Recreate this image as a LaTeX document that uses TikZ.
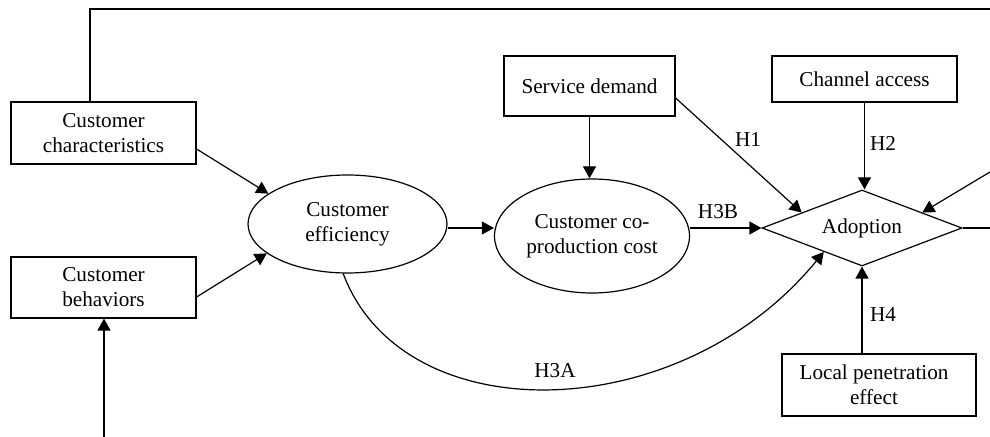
\documentclass[tikz,border=0pt]{standalone}
\usepackage{fontspec}
\setmainfont{Liberation Serif}
\usetikzlibrary{shapes.geometric,arrows.meta,calc}
\begin{document}
\begin{tikzpicture}[x=0.5pt,y=-0.5pt,
  every node/.style={font=\fontsize{10.6}{12.5}\selectfont},
  line/.style={line width=0.6pt},
  arr/.style={line, -{Triangle[length=6pt,width=6.5pt]}},
  box/.style={draw, line width=0.6pt, rectangle, inner sep=0pt, align=center},
  oval/.style={draw, line width=0.6pt, ellipse, inner sep=0pt, align=center},
  rhomb/.style={draw, line width=0.6pt, diamond, shape aspect=2.63, inner sep=0pt},
  lbl/.style={inner sep=0pt}]
\useasboundingbox (0,0) rectangle (990,437);

% constructs
\node[box, minimum width=92.5pt, minimum height=31pt] (char) at (103.5,133) {Customer\\characteristics};
\node[box, minimum width=92.5pt, minimum height=30.5pt] (behav) at (103.5,287.5) {Customer\\behaviors};
\node[oval, minimum width=99.5pt, minimum height=49pt] (eff) at (347.5,224) {Customer\\efficiency};
\node[oval, minimum width=97.5pt, minimum height=57pt] (cost) at (592,236) {Customer co-\\production cost};
\node[box, minimum width=85.5pt, minimum height=30pt] (serv) at (589.5,86) {Service demand};
\node[box, minimum width=92.5pt, minimum height=23pt] (chan) at (864.5,79) {Channel access};
\node[rhomb, minimum width=100pt, minimum height=38pt] (adopt) at (862,228) {Adoption};
\node[box, minimum width=97pt, minimum height=31pt] (local) at (879,385)
  {Local penetration\hspace*{5pt}\\effect\hspace*{5pt}};

% loose ends of the connectors
\coordinate (topL) at (90,9);
\coordinate (topR) at (990,9);
\coordinate (behavIn) at (104,437);
\coordinate (rightIn) at (990,172);
\coordinate (rightOut) at (990,228);

% connectors
\draw[line] (char.north -| topL) -- (topL) -- (topR);
\draw[arr] (behavIn) -- (behavIn |- behav.south);
\draw[arr] ([yshift=-8pt]char.east) -- (eff.159);
\draw[arr] ([yshift=-4.75pt]behav.east) -- (eff.200);
\path ([yshift=-2pt]eff.east) coordinate (e1);
\draw[arr] (e1) -- (e1 -| cost.west);
\draw[arr] (serv.south) -- (serv.south |- cost.north);
\draw[arr] ([yshift=-6pt]serv.east) -- ($(adopt.west)!0.4!(adopt.north)$);
\draw[arr] (chan.south) -- (chan.south |- adopt.north);
\draw[arr] (rightIn) -- ($(adopt.north)!0.6!(adopt.east)$);
\draw[line] (adopt.east) -- (rightOut);
\draw[arr] (cost.east |- adopt.west) -- (adopt.west);
\draw[arr] (local.north -| adopt.south) -- (adopt.south);
\draw[arr] (eff.-95) .. controls +(60,160) and +(-144,176) .. ($(adopt.west)!0.62!(adopt.south)$);

% hypothesis labels
\node[lbl] (h1) at (748,140) {H1};
\node[lbl] (h2) at (883,143) {H2};
\node[lbl] (h3b) at (718,212) {H3B};
\node[lbl] (h3a) at (555,371) {H3A};
\node[lbl] (h4) at (883,315) {H4};
\end{tikzpicture}
\end{document}
